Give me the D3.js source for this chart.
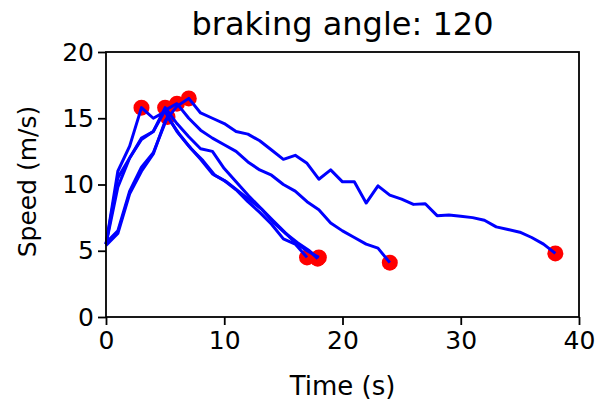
<!DOCTYPE html>
<html>
<head>
<meta charset="utf-8">
<script src="https://cdn.jsdelivr.net/npm/d3@7"></script>
<style>
  body { margin: 0; background: #fff; }
  text { font-family: "DejaVu Sans", sans-serif; fill: #000; }
</style>
</head>
<body>
<div id="chart"></div>
<script>
// Dados (tempo em s, velocidade em m/s)
const xTicks = [0, 10, 20, 30, 40];
const yTicks = [0, 5, 10, 15, 20];

const run1 = [[0,5.5],[1,11.0],[2,12.9],[3,15.8],[4,15.0],[5,15.5],[6,14.0],[7,12.9],[8,11.9],[9,10.8],[10,10.3],[11,9.6],[12,8.7],[13,7.9],[14,7.0],[15,5.9],[16,5.5],[17,4.5]];
const run2 = [[0,5.5],[1,9.8],[2,12.0],[3,13.5],[4,14.0],[5,15.8],[6,14.6],[7,13.6],[8,12.7],[9,12.5],[10,11.2],[11,10.2],[12,9.2],[13,8.3],[14,7.4],[15,6.5],[16,5.6],[17,5.0],[18,4.5]];
const run3 = [[0,5.6],[1,6.5],[2,9.5],[3,11.3],[4,12.4],[5.2,15.1],[6.2,13.8],[7.2,12.7],[8.2,11.8],[9.2,10.7],[10.2,10.2],[11.2,9.5],[12.2,8.8],[13.2,8.1],[14.2,7.1],[15.2,6.3],[16.2,5.6],[17.2,5.0],[17.9,4.4]];
const run4 = [[0,5.5],[1,10.5],[2,12.0],[3,13.4],[4,14.0],[5,15.6],[6,16.1],[7,15.0],[8,14.1],[9,13.5],[10,13.0],[11,12.5],[12,11.7],[13,11.1],[14,10.7],[15,10.0],[16,9.5],[17,8.7],[18,8.1],[19,7.1],[20,6.5],[21,6.0],[22,5.5],[23,5.2],[24,4.1]];
const run5 = [[0,5.4],[1,6.3],[2,9.3],[3,11.0],[4,12.3],[5,14.8],[6,15.9],[7,16.5],[8,15.4],[9,15.0],[10,14.6],[11,14.0],[12,13.8],[13,13.3],[14,12.6],[15,11.9],[16,12.2],[17,11.6],[18,10.4],[19,11.1],[20,10.2],[21,10.2],[22,8.6],[23,9.9],[24,9.2],[25,8.9],[26,8.5],[27,8.55],[28,7.65],[29,7.7],[30,7.6],[31,7.5],[32,7.3],[33,6.8],[34,6.6],[35,6.4],[36,6.0],[37,5.5],[38,4.8]];

const runs = [run1, run2, run3, run4, run5];

const W = 609, H = 406;
const margin = { top: 52, right: 30, bottom: 89, left: 106 };
const width = W - margin.left - margin.right;
const height = H - margin.top - margin.bottom;

const svg = d3.select("#chart").append("svg")
  .attr("width", W)
  .attr("height", H);

const g = svg.append("g")
  .attr("transform", `translate(${margin.left},${margin.top})`);

// Escalas
const x = d3.scaleLinear().domain([0, 40]).range([0, width]);
const y = d3.scaleLinear().domain([0, 20]).range([height, 0]);

// Pontos de máximo e fim (por baixo das linhas)
const marks = [];
runs.forEach((r) => {
  const peak = r.reduce((a, b) => (b[1] > a[1] ? b : a));
  marks.push(peak, r[r.length - 1]);
});

g.selectAll(".dot")
  .data(marks)
  .enter()
  .append("circle")
  .attr("class", "dot")
  .attr("cx", (d) => x(d[0]))
  .attr("cy", (d) => y(d[1]))
  .attr("r", 8)
  .attr("fill", "#ff0000");

// Linhas
const line = d3.line().x((d) => x(d[0])).y((d) => y(d[1]));

g.selectAll(".run")
  .data(runs)
  .enter()
  .append("path")
  .attr("class", "run")
  .attr("d", line)
  .attr("fill", "none")
  .attr("stroke", "#0000ff")
  .attr("stroke-width", 3)
  .attr("stroke-linejoin", "round");

// Eixos
const xAxis = g.append("g")
  .attr("transform", `translate(0,${height})`)
  .call(d3.axisBottom(x).tickValues(xTicks).tickSize(8).tickPadding(6));
const yAxis = g.append("g")
  .call(d3.axisLeft(y).tickValues(yTicks).tickSize(8).tickPadding(4));

[xAxis, yAxis].forEach((a) => {
  a.select(".domain").remove();
  a.selectAll(".tick line").attr("stroke", "#000").attr("stroke-width", 1.8);
  a.selectAll(".tick text")
    .style("font-size", "25px")
    .style("font-family", "DejaVu Sans, sans-serif")
    .attr("fill", "#000");
});

// Moldura
g.append("rect")
  .attr("width", width)
  .attr("height", height)
  .attr("fill", "none")
  .attr("stroke", "#000")
  .attr("stroke-width", 1.8);

// Títulos
svg.append("text")
  .attr("x", margin.left + width / 2)
  .attr("y", 35)
  .attr("text-anchor", "middle")
  .style("font-size", "32px")
  .text("braking angle: 120");

svg.append("text")
  .attr("x", margin.left + width / 2)
  .attr("y", 395)
  .attr("text-anchor", "middle")
  .style("font-size", "26px")
  .text("Time (s)");

svg.append("text")
  .attr("transform", `translate(36,${margin.top + height / 2 - 3}) rotate(-90)`)
  .attr("text-anchor", "middle")
  .style("font-size", "25px")
  .text("Speed (m/s)");
</script>
</body>
</html>
